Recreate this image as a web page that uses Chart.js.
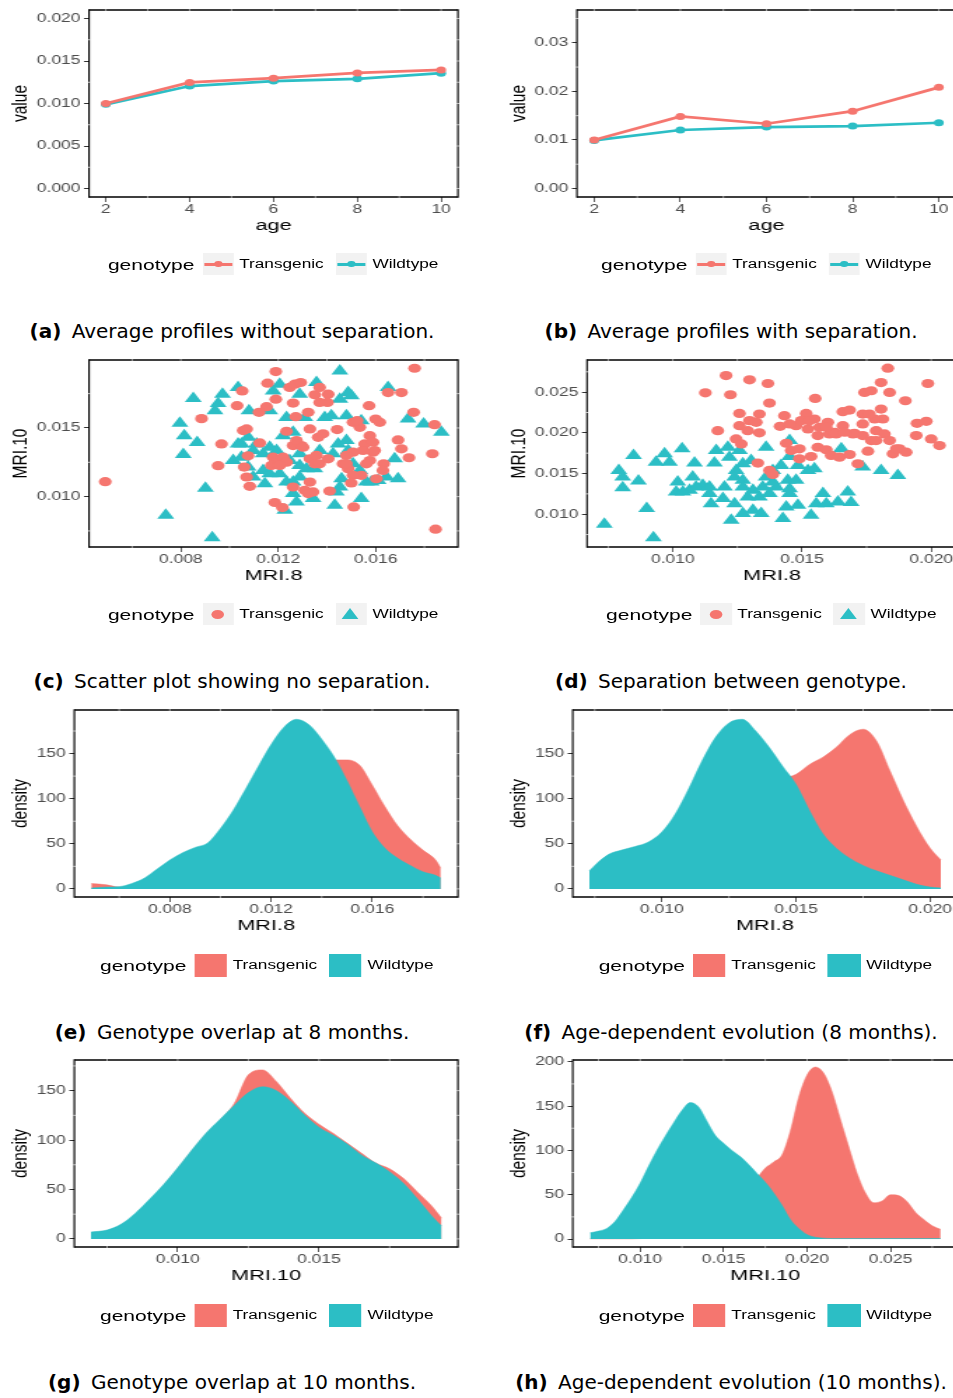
<!DOCTYPE html>
<html>
<head>
<meta charset="utf-8">
<script src="https://cdn.jsdelivr.net/npm/chart.js@4/dist/chart.umd.min.js"></script>
<style>
  html, body { margin: 0; padding: 0; background: #fff; }
  body { width: 953px; height: 1398px; overflow: hidden; position: relative; font-family: 'Liberation Sans', Arial, sans-serif; }
  .panel { position: absolute; height: 300px; transform: scaleX(1.4); transform-origin: 0 0; }
  .panel canvas { position: absolute; left: 0; top: 0; }
  .legend { position: absolute; display: flex; align-items: center; height: 23px; white-space: nowrap; color: #000; }
  .legend .ttl { font-size: 15px; margin-right: 5.7px; }
  .legend .lab { font-size: 12.3px; margin-left: 4px; }
  .legend .gap { width: 8.5px; }
  .key { width: 22.3px; height: 22px; background: #f2f2f2; position: relative; }
  .key.fill { width: 23.4px; height: 23px; }
  .key .ln { position: absolute; left: 1px; right: 1px; top: 9.5px; height: 3px; }
  .key .dot { position: absolute; left: 8.15px; top: 7.75px; width: 6px; height: 6.5px; border-radius: 50%; }
  .key .circ { position: absolute; left: 6.6px; top: 6.5px; width: 9px; height: 9px; border-radius: 50%; }
  .key .tri { position: absolute; left: 4.65px; top: 5px; width: 0; height: 0; border-left: 6.5px solid transparent; border-right: 6.5px solid transparent; }
  .caption { position: absolute; transform: translateX(-50%); white-space: nowrap; font-family: 'DejaVu Sans', sans-serif; font-size: 20px; line-height: 24px; color: #000; }
  .caption b { margin-right: 4px; }
</style>
</head>
<body>
<script>
const SX = 1.4;
const RED = '#F5766F';
const TEAL = '#2CBEC5';

// (a), (b) average profiles
const ages = [2, 4, 6, 8, 10];
const avgTransNoSep = [0.0100, 0.01248, 0.01298, 0.0136, 0.01395];
const avgWildNoSep = [0.0099, 0.01205, 0.01264, 0.0129, 0.01357];
const avgTransSep = [0.0100, 0.01483, 0.01333, 0.01592, 0.02082];
const avgWildSep = [0.0099, 0.01204, 0.01265, 0.01286, 0.01354];

// (c) scatter, no separation
const cTransX = [0.004895,0.0119,0.0176,0.01846,0.00885,0.00967,0.00953,0.01052,0.01031,0.01056,0.0107,0.01124,0.01076,0.0106,0.0107,0.01083,0.01156,0.01152,0.01121,0.0119,0.01261,0.01247,0.01268,0.01292,0.01272,0.01323,0.0135,0.0137,0.01405,0.01402,0.0133,0.01234,0.01364,0.01384,0.01442,0.01507,0.01535,0.01524,0.01573,0.016,0.01617,0.01651,0.01706,0.01756,0.01842,0.01833,0.01692,0.01706,0.01737,0.01576,0.01555,0.01548,0.01589,0.01507,0.0148,0.01466,0.01487,0.01541,0.01507,0.01603,0.01633,0.0163,0.015,0.0151,0.01411,0.0133,0.01309,0.01343,0.01323,0.01261,0.01186,0.01217,0.01179,0.01199,0.0122,0.01234,0.01172,0.01206,0.01261,0.01295,0.01275,0.01302,0.0133,0.0135,0.0137,0.01405,0.01357,0.01576,0.01562,0.01596,0.0148,0.01589,0.0137];
const cTransY = [0.01109,0.01911,0.01935,0.00763,0.01568,0.01384,0.01225,0.0177,0.01662,0.01481,0.01493,0.01391,0.01297,0.01215,0.01143,0.01075,0.01826,0.01655,0.01614,0.0171,0.01681,0.01795,0.01819,0.01831,0.01582,0.01614,0.01742,0.01795,0.01746,0.01686,0.01493,0.01476,0.01432,0.01457,0.01488,0.01541,0.01505,0.01553,0.01662,0.01565,0.01541,0.01758,0.01758,0.01614,0.01524,0.01312,0.01413,0.01348,0.01283,0.01444,0.01384,0.01336,0.01324,0.01324,0.013,0.01239,0.01203,0.01155,0.01155,0.0113,0.01239,0.01191,0.01099,0.00925,0.01041,0.01106,0.01046,0.01034,0.01022,0.0107,0.00957,0.0092,0.01287,0.01263,0.01287,0.01251,0.01227,0.01227,0.01372,0.01372,0.01408,0.0136,0.01275,0.01239,0.01239,0.01275,0.013,0.01263,0.01239,0.01336,0.01239,0.01396,0.01686];
const cWildX = [0.00738,0.00929,0.00901,0.0081,0.00814,0.00796,0.00867,0.00851,0.0094,0.00953,0.00971,0.01035,0.0108,0.01076,0.01035,0.01015,0.01049,0.01097,0.01138,0.01165,0.01138,0.01145,0.01165,0.01206,0.01165,0.01179,0.01206,0.01234,0.0122,0.01261,0.01288,0.01309,0.01357,0.01391,0.01418,0.01453,0.01453,0.015,0.0148,0.01541,0.01446,0.0148,0.01425,0.0137,0.01288,0.01247,0.01288,0.01316,0.0135,0.01288,0.01261,0.01234,0.01261,0.01275,0.01227,0.01343,0.01432,0.01439,0.0146,0.01453,0.01541,0.01562,0.0161,0.01644,0.01692,0.01678,0.01651,0.01733,0.01797,0.0187,0.01535,0.01507,0.01487,0.01487,0.01049,0.01111,0.01193,0.01076,0.01097,0.01582];
const cWildY = [0.00865,0.007,0.0106,0.01307,0.01444,0.01534,0.01394,0.01715,0.01626,0.01679,0.01746,0.01795,0.01626,0.01432,0.01384,0.01263,0.01287,0.01336,0.01312,0.0136,0.01191,0.01094,0.01167,0.01167,0.01626,0.0177,0.01819,0.01577,0.01444,0.01469,0.01746,0.01577,0.01831,0.01577,0.01589,0.0171,0.01915,0.01734,0.01589,0.01553,0.01384,0.01408,0.01312,0.01336,0.01312,0.01263,0.01227,0.01203,0.01203,0.01143,0.01106,0.01106,0.01022,0.00961,0.00901,0.00986,0.00937,0.01034,0.0113,0.0107,0.00986,0.01106,0.01118,0.01143,0.0113,0.01275,0.01795,0.01565,0.01529,0.01469,0.01191,0.01239,0.01336,0.01758,0.01384,0.01384,0.01336,0.01215,0.01143,0.01106];

// (d) scatter, with separation
const dTransX = [0.01126,0.01206,0.01223,0.01297,0.01368,0.01374,0.01174,0.01258,0.01258,0.01297,0.01335,0.01323,0.0129,0.01335,0.01245,0.01265,0.01329,0.01374,0.01387,0.01432,0.01415,0.01439,0.01458,0.0149,0.0149,0.01535,0.01477,0.01516,0.01548,0.01551,0.01523,0.01568,0.016,0.01561,0.01606,0.01561,0.01594,0.01613,0.01645,0.01632,0.01658,0.01684,0.01716,0.01658,0.01684,0.01703,0.01735,0.01735,0.01742,0.01768,0.01755,0.01768,0.01787,0.01806,0.01813,0.01819,0.01806,0.01832,0.01839,0.01852,0.01877,0.01903,0.019,0.01945,0.01981,0.01942,0.01987,0.02,0.02032,0.01781,0.01697,0.01626,0.01665,0.01787,0.01735,0.01761,0.01839,0.01865,0.01452,0.01497,0.01529,0.01594];
const dTransY = [0.02492,0.02704,0.02468,0.02651,0.02606,0.02366,0.02027,0.02239,0.02088,0.0215,0.02231,0.02129,0.02027,0.02,0.01925,0.01864,0.01628,0.01538,0.01489,0.02211,0.0208,0.01872,0.01783,0.01803,0.01681,0.01709,0.02088,0.02239,0.0217,0.02423,0.02048,0.02068,0.02129,0.01966,0.01987,0.01823,0.01791,0.01722,0.01701,0.01987,0.02088,0.01734,0.0162,0.0226,0.0228,0.01995,0.01966,0.02109,0.02496,0.02517,0.01775,0.01905,0.02027,0.02292,0.0217,0.01987,0.02618,0.02794,0.02496,0.01742,0.01803,0.01762,0.02394,0.02117,0.02141,0.01966,0.02606,0.01925,0.01844,0.0217,0.01987,0.02007,0.02007,0.01905,0.02231,0.02231,0.01905,0.01803,0.02109,0.0215,0.0215,0.02068];
const dWildX = [0.00735,0.00925,0.00899,0.00806,0.00806,0.00791,0.00867,0.00848,0.00935,0.00968,0.01036,0.01084,0.01019,0.01013,0.01065,0.01077,0.01116,0.01142,0.01148,0.01161,0.01168,0.01213,0.012,0.01194,0.01226,0.01239,0.01258,0.01271,0.01245,0.01239,0.01271,0.01271,0.0131,0.0129,0.01335,0.01271,0.0131,0.01342,0.01361,0.01361,0.01387,0.01374,0.014,0.01419,0.01452,0.01452,0.01484,0.01445,0.01477,0.01452,0.01439,0.01426,0.01484,0.01535,0.01523,0.01548,0.01555,0.01581,0.01594,0.01639,0.01652,0.01677,0.0169,0.01735,0.01806,0.01871,0.01452,0.01348,0.01142,0.0109,0.01039,0.00987,0.01219,0.01303,0.01387];
const dWildY = [0.00878,0.00711,0.01069,0.01326,0.01457,0.01538,0.01408,0.01722,0.0164,0.01742,0.01803,0.01628,0.01395,0.01273,0.01294,0.01457,0.01355,0.01253,0.0113,0.01628,0.01783,0.01823,0.01334,0.01192,0.00927,0.0113,0.01783,0.0162,0.01538,0.01457,0.01416,0.01334,0.01294,0.01212,0.01212,0.01008,0.01049,0.01008,0.01823,0.01457,0.01538,0.01253,0.01334,0.01599,0.01905,0.01709,0.01599,0.01416,0.01416,0.01253,0.0109,0.00947,0.0111,0.00988,0.01538,0.01558,0.0113,0.01253,0.0113,0.01151,0.01803,0.01273,0.01143,0.01579,0.01538,0.01477,0.01314,0.01334,0.01334,0.01334,0.01273,0.0164,0.01701,0.0166,0.01395];

// (e) density of MRI.8, no separation
const eGrid = [0.0049,0.0055,0.006,0.0065,0.007,0.0075,0.008,0.0085,0.009,0.0095,0.010,0.0105,0.011,0.0115,0.012,0.0125,0.013,0.0135,0.014,0.0145,0.015,0.0155,0.016,0.0165,0.017,0.0175,0.018,0.0185,0.0187];
const eTrans = [6,4.5,2,4,8,14,20,26,32,40,52,68,86,104,118,128,135,139,142,143,143,137,115,91,70,55,43,32,23];
const eWild = [1,2,2.5,6,12,22,32,40,46,51,67,87,111,136,160,179,188,182,166,146,120,91,63,45,34,26,19,15,12];

// (f) density of MRI.8, with separation
const fGrid = [0.0073,0.0075,0.008,0.0085,0.009,0.0095,0.010,0.0105,0.011,0.0115,0.012,0.0125,0.013,0.0135,0.014,0.0145,0.015,0.0155,0.016,0.0165,0.017,0.0175,0.018,0.0185,0.019,0.0195,0.020,0.0204];
const fTrans = [1,1,2,3,4,6,9,14,22,33,48,66,85,102,115,122,127,138,146,157,171,177,164,131,98,69,45,32];
const fWild = [20,26,38,43,47,52,63,83,111,142,168,184,188,175,157,136,116,87,61,45,34,26,20,15,10,5,2,1];

// (g) density of MRI.10, no separation
const gGrid = [0.00693,0.0075,0.008,0.0085,0.009,0.0095,0.010,0.0105,0.011,0.0115,0.012,0.0125,0.013,0.0135,0.014,0.0145,0.015,0.0155,0.016,0.0165,0.017,0.0175,0.018,0.0185,0.019,0.01934];
const gTrans = [6,8,14,24,38,54,71,89,106,120,137,166,171,159,142,127,116,107,97,87,77,71,61,47,33,21];
const gWild = [7,9,15,26,40,55,72,90,107,121,135,148,154,150,139,125,113,105,96,85,77,68,56,40,23,13];

// (h) density of MRI.10, with separation
const hGrid = [0.007,0.0075,0.008,0.0085,0.009,0.0095,0.010,0.0105,0.011,0.0115,0.012,0.0125,0.013,0.0135,0.014,0.0145,0.015,0.0155,0.016,0.0165,0.017,0.0175,0.018,0.0185,0.019,0.0195,0.020,0.0205,0.021,0.0215,0.022,0.0225,0.023,0.0235,0.024,0.0245,0.025,0.0255,0.026,0.0265,0.027,0.0275,0.028];
const hTrans = [0.2,0.2,0.2,0.2,0.2,0.2,0.5,1,1,1,2,2,3,4,6,9,14,22,35,50,68,80,87,95,122,160,185,194,187,166,135,104,74,52,41,43,50,49,42,30,22,15,11];
const hWild = [7,9,12,20,33,47,63,82,100,116,131,145,154,149,133,117,108,100,93,84,74,64,52,38,22,12,5,2,1,0.5,0.5,0.5,0.5,0.5,0.5,0.5,0.5,0.5,0.5,0.5,0.5,0.5,0.5];

// axis ticks and their labels
const ageTicks = [2, 4, 6, 8, 10];
const ageLabels = ['2', '4', '6', '8', '10'];
const aYTicks = [0, 0.005, 0.01, 0.015, 0.02];
const aYLabels = ['0.000', '0.005', '0.010', '0.015', '0.020'];
const bYTicks = [0, 0.01, 0.02, 0.03];
const bYLabels = ['0.00', '0.01', '0.02', '0.03'];
const narrowTicks = [0.008, 0.012, 0.016];
const narrowLabels = ['0.008', '0.012', '0.016'];
const wideTicks = [0.010, 0.015, 0.020];
const wideLabels = ['0.010', '0.015', '0.020'];
const mri10Ticks = [0.010, 0.015];
const mri10Labels = ['0.010', '0.015'];
const dYTicks = [0.010, 0.015, 0.020, 0.025];
const dYLabels = ['0.010', '0.015', '0.020', '0.025'];
const gXTicks = [0.010, 0.015];
const gXLabels = ['0.010', '0.015'];
const hXTicks = [0.010, 0.015, 0.020, 0.025];
const hXLabels = ['0.010', '0.015', '0.020', '0.025'];
const densTicks = [0, 50, 100, 150];
const densLabels = ['0', '50', '100', '150'];
const densTicksH = [0, 50, 100, 150, 200];
const densLabelsH = ['0', '50', '100', '150', '200'];

Chart.defaults.font.family = "'Liberation Sans', Arial, sans-serif";

function pts(xs, ys) {
  return xs.map((x, i) => ({ x: x, y: ys[i] }));
}

// ggplot-like breaks (major + minor) used for the white marks across the frame
function breaks(scale) {
  const t = scale.ticks.map(k => k.value);
  const half = (t[1] - t[0]) / 2;
  const out = [];
  for (let i = -6; i <= t.length * 2 + 6; i++) {
    const v = t[0] + i * half;
    if (v > scale.min && v < scale.max) out.push({ v: v, minor: i % 2 !== 0 });
  }
  return out;
}

const framePlugin = {
  id: 'frame',
  afterDatasetsDraw(chart) {
    const { ctx, chartArea: a, scales: { x, y } } = chart;
    ctx.save();
    ctx.strokeStyle = '#000';
    ctx.lineWidth = 1.6;
    ctx.beginPath();
    ctx.moveTo(a.left, a.top); ctx.lineTo(a.right, a.top);
    ctx.moveTo(a.left, a.bottom); ctx.lineTo(a.right, a.bottom);
    ctx.stroke();
    ctx.lineWidth = 1.6 / SX;
    ctx.beginPath();
    ctx.moveTo(a.left, a.top - 0.8); ctx.lineTo(a.left, a.bottom + 0.8);
    ctx.moveTo(a.right, a.top - 0.8); ctx.lineTo(a.right, a.bottom + 0.8);
    ctx.stroke();

    ctx.strokeStyle = '#fff';
    ctx.lineWidth = 0.7 / SX;
    breaks(x).forEach(b => {
      const px = x.getPixelForValue(b.v);
      if (px < a.left + 2 || px > a.right - 2) return;
      ctx.beginPath();
      ctx.moveTo(px, a.top - 1); ctx.lineTo(px, a.top + 1);
      if (b.minor) { ctx.moveTo(px, a.bottom - 1); ctx.lineTo(px, a.bottom + 1); }
      ctx.stroke();
    });
    ctx.lineWidth = 0.7;
    breaks(y).forEach(b => {
      const py = y.getPixelForValue(b.v);
      if (py < a.top + 2 || py > a.bottom - 2) return;
      ctx.beginPath();
      ctx.moveTo(a.right - 0.8, py); ctx.lineTo(a.right + 0.8, py);
      if (b.minor) { ctx.moveTo(a.left - 0.8, py); ctx.lineTo(a.left + 0.8, py); }
      ctx.stroke();
    });
    ctx.restore();
  }
};

const CANVAS_H = 240;

function axis(p, which) {
  const r = p[which];
  const isX = which === 'x';
  return {
    type: 'linear',
    min: r.min,
    max: r.max,
    afterBuildTicks: s => { s.ticks = r.ticks.map(v => ({ value: v })); },
    afterFit: s => {
      if (isX) s.height = CANVAS_H - p.area.bottom;
      else s.width = p.area.left;
    },
    ticks: {
      callback: (v, i) => r.labels[i],
      color: '#4D4D4D',
      font: { size: 12.5 },
      padding: isX ? 0 : 2.5,
      maxRotation: 0,
      autoSkip: false
    },
    grid: {
      drawOnChartArea: false,
      drawTicks: true,
      tickLength: isX ? 5 : 3.6,
      color: '#333',
      lineWidth: isX ? 0.8 : 1
    },
    border: { display: false },
    title: {
      display: true,
      text: r.title,
      color: '#000',
      font: { size: 15.5 },
      padding: isX ? { top: 0, bottom: 5 } : { top: p.left > 0 ? 21.5 : 5, bottom: 0 }
    }
  };
}

function keyHtml(kind, color) {
  if (kind === 'line') return '<div class="key"><div class="ln" style="background:' + color + '"></div><div class="dot" style="background:' + color + '"></div></div>';
  if (kind === 'circle') return '<div class="key"><div class="circ" style="background:' + color + '"></div></div>';
  if (kind === 'triangle') return '<div class="key"><div class="tri" style="border-bottom:11px solid ' + color + '"></div></div>';
  return '<div class="key fill" style="background:' + color + '"></div>';
}

function makePanel(p) {
  const div = document.createElement('div');
  div.className = 'panel';
  div.style.left = p.left + 'px';
  div.style.top = p.top + 'px';
  div.style.width = p.w + 'px';
  const cv = document.createElement('canvas');
  cv.width = p.w;
  cv.height = CANVAS_H;
  div.appendChild(cv);

  const lg = document.createElement('div');
  lg.className = 'legend';
  lg.style.left = p.legendLeft + 'px';
  lg.style.top = p.legendTop + 'px';
  lg.innerHTML = '<span class="ttl">genotype</span>' + keyHtml(p.keys[0], RED) +
    '<span class="lab">Transgenic</span><span class="gap"></span>' + keyHtml(p.keys[1], TEAL) +
    '<span class="lab">Wildtype</span>';
  div.appendChild(lg);
  document.body.appendChild(div);

  new Chart(cv, {
    type: p.type,
    data: { datasets: p.datasets },
    options: {
      responsive: false,
      animation: false,
      events: [],
      layout: { padding: { left: 0, top: p.area.top, right: p.w - p.area.right, bottom: 0 } },
      plugins: { legend: { display: false }, tooltip: { enabled: false } },
      scales: { x: axis(p, 'x'), y: axis(p, 'y') }
    },
    plugins: [framePlugin]
  });
}

function lineSets(trans, wild) {
  const base = { borderWidth: 2.7, pointRadius: 3.5, pointBorderWidth: 0, tension: 0 };
  return [
    Object.assign({ label: 'Transgenic', data: pts(ages, trans), borderColor: RED, backgroundColor: RED, pointBackgroundColor: RED, order: 0 }, base),
    Object.assign({ label: 'Wildtype', data: pts(ages, wild), borderColor: TEAL, backgroundColor: TEAL, pointBackgroundColor: TEAL, order: 1 }, base)
  ];
}

function scatterSets(tx, ty, wx, wy) {
  return [
    { label: 'Transgenic', data: pts(tx, ty), pointStyle: 'circle', pointRadius: 4.6, backgroundColor: RED, borderWidth: 0, order: 0 },
    { label: 'Wildtype', data: pts(wx, wy), pointStyle: 'triangle', pointRadius: 7, backgroundColor: TEAL, borderWidth: 0, order: 1 }
  ];
}

function densitySets(grid, trans, wild) {
  const base = { fill: 'origin', pointRadius: 0, borderWidth: 0.5, cubicInterpolationMode: 'monotone' };
  return [
    Object.assign({ label: 'Wildtype', data: pts(grid, wild), backgroundColor: TEAL, borderColor: TEAL, order: 0 }, base),
    Object.assign({ label: 'Transgenic', data: pts(grid, trans), backgroundColor: RED, borderColor: RED, order: 1 }, base)
  ];
}

const LEFT_W = 340;
const RIGHT_W = 360;

const panels = [
  {
    left: 0, top: 0, w: LEFT_W, type: 'line',
    area: { left: 63.6, right: 327.1, top: 9, bottom: 197 },
    x: { min: 1.6, max: 10.4, ticks: ageTicks, labels: ageLabels, title: 'age' },
    y: { min: -0.001, max: 0.021, ticks: aYTicks, labels: aYLabels, title: 'value' },
    datasets: lineSets(avgTransNoSep, avgWildNoSep),
    keys: ['line', 'line'], legendLeft: 77.1, legendTop: 252.5
  },
  {
    left: 476, top: 0, w: RIGHT_W, type: 'line',
    area: { left: 72.1, right: 342.9, top: 9, bottom: 197 },
    x: { min: 1.6, max: 10.4, ticks: ageTicks, labels: ageLabels, title: 'age' },
    y: { min: -0.00175, max: 0.03675, ticks: bYTicks, labels: bYLabels, title: 'value' },
    datasets: lineSets(avgTransSep, avgWildSep),
    keys: ['line', 'line'], legendLeft: 89.3, legendTop: 252.5
  },
  {
    left: 0, top: 350, w: LEFT_W, type: 'scatter',
    area: { left: 63.6, right: 327.1, top: 9, bottom: 197 },
    x: { min: 0.00423, max: 0.01938, ticks: narrowTicks, labels: narrowLabels, title: 'MRI.8' },
    y: { min: 0.00633, max: 0.01995, ticks: mri10Ticks, labels: mri10Labels, title: 'MRI.10' },
    datasets: scatterSets(cTransX, cTransY, cWildX, cWildY),
    keys: ['circle', 'triangle'], legendLeft: 77.1, legendTop: 252.5
  },
  {
    left: 476, top: 350, w: RIGHT_W, type: 'scatter',
    area: { left: 79.3, right: 343.6, top: 9, bottom: 197 },
    x: { min: 0.00668, max: 0.0210, ticks: wideTicks, labels: wideLabels, title: 'MRI.8' },
    y: { min: 0.00597, max: 0.02895, ticks: dYTicks, labels: dYLabels, title: 'MRI.10' },
    datasets: scatterSets(dTransX, dTransY, dWildX, dWildY),
    keys: ['circle', 'triangle'], legendLeft: 92.9, legendTop: 252.5
  },
  {
    left: 0, top: 700, w: LEFT_W, type: 'line',
    area: { left: 53.1, right: 327.1, top: 9, bottom: 197 },
    x: { min: 0.00423, max: 0.01938, ticks: narrowTicks, labels: narrowLabels, title: 'MRI.8' },
    y: { min: -9, max: 198.3, ticks: densTicks, labels: densLabels, title: 'density' },
    datasets: densitySets(eGrid, eTrans, eWild),
    keys: ['fill', 'fill'], legendLeft: 71.4, legendTop: 253.5
  },
  {
    left: 476, top: 700, w: RIGHT_W, type: 'line',
    area: { left: 69.1, right: 343.6, top: 9, bottom: 197 },
    x: { min: 0.00668, max: 0.0210, ticks: wideTicks, labels: wideLabels, title: 'MRI.8' },
    y: { min: -9, max: 198.3, ticks: densTicks, labels: densLabels, title: 'density' },
    datasets: densitySets(fGrid, fTrans, fWild),
    keys: ['fill', 'fill'], legendLeft: 87.6, legendTop: 253.5
  },
  {
    left: 0, top: 1050, w: LEFT_W, type: 'line',
    area: { left: 53.1, right: 327.1, top: 10, bottom: 197 },
    x: { min: 0.00634, max: 0.01992, ticks: gXTicks, labels: gXLabels, title: 'MRI.10' },
    y: { min: -8.2, max: 181, ticks: densTicks, labels: densLabels, title: 'density' },
    datasets: densitySets(gGrid, gTrans, gWild),
    keys: ['fill', 'fill'], legendLeft: 71.4, legendTop: 253.5
  },
  {
    left: 476, top: 1050, w: RIGHT_W, type: 'line',
    area: { left: 69.1, right: 344, top: 10, bottom: 197 },
    x: { min: 0.00596, max: 0.02902, ticks: hXTicks, labels: hXLabels, title: 'MRI.10' },
    y: { min: -9, max: 202, ticks: densTicksH, labels: densLabelsH, title: 'density' },
    datasets: densitySets(hGrid, hTrans, hWild),
    keys: ['fill', 'fill'], legendLeft: 87.6, legendTop: 253.5
  }
];

panels.forEach(makePanel);

const captions = [
  ['(a)', 'Average profiles without separation.', 232, 319],
  ['(b)', 'Average profiles with separation.', 731, 319],
  ['(c)', 'Scatter plot showing no separation.', 232, 669],
  ['(d)', 'Separation between genotype.', 731, 669],
  ['(e)', 'Genotype overlap at 8 months.', 232, 1020],
  ['(f)', 'Age-dependent evolution (8 months).', 731, 1020],
  ['(g)', 'Genotype overlap at 10 months.', 232, 1370],
  ['(h)', 'Age-dependent evolution (10 months).', 731, 1370]
];
captions.forEach(c => {
  const d = document.createElement('div');
  d.className = 'caption';
  d.style.left = c[2] + 'px';
  d.style.top = c[3] + 'px';
  d.innerHTML = '<b>' + c[0] + '</b> ' + c[1];
  document.body.appendChild(d);
});
</script>
</body>
</html>
